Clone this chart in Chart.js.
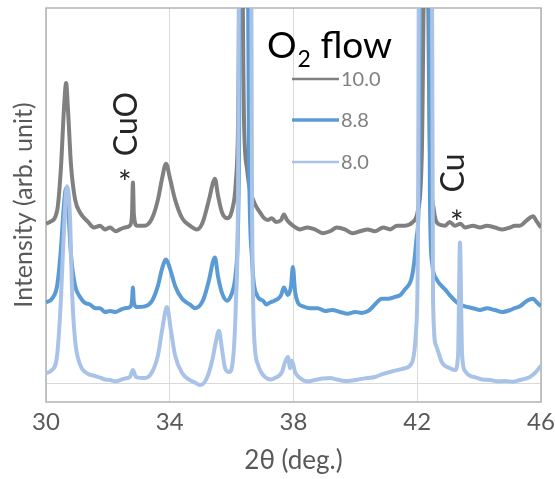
<!DOCTYPE html>
<html>
<head>
<meta charset="utf-8">
<script src="https://cdn.jsdelivr.net/npm/chart.js@4"></script>
<style>
    html, body { margin: 0; padding: 0; background: #fff; }
    #wrap { width: 555px; height: 479px; }
</style>
</head>
<body>
<div id="wrap"><canvas id="xrd-chart" width="555" height="479"></canvas></div>
<script>
// 2theta (deg) / intensity pairs, one list per O2 flow
const flow100 = [
    [30.00, 85], [30.13, 86], [30.36, 92], [30.48, 114], [30.58, 146], [30.65, 160], [30.71, 146],
    [30.81, 116], [30.94, 98], [31.10, 91], [31.36, 86], [31.55, 83], [31.75, 84], [31.90, 82],
    [32.07, 83], [32.25, 81], [32.39, 82], [32.55, 83], [32.71, 84], [32.78, 90], [32.81, 107],
    [32.84, 90], [32.94, 84], [33.20, 84], [33.43, 88], [33.62, 98], [33.75, 109], [33.88, 117],
    [34.01, 109], [34.17, 98], [34.40, 88], [34.65, 84], [34.88, 82], [35.07, 86], [35.27, 98],
    [35.40, 107], [35.46, 109], [35.56, 100], [35.69, 91], [35.85, 88], [36.01, 92], [36.14, 108],
    [36.21, 140], [36.30, 300], [36.40, 140], [36.50, 114], [36.59, 103], [36.69, 98], [36.80, 94],
    [36.92, 91], [37.05, 88], [37.17, 87], [37.30, 88], [37.43, 86], [37.60, 87], [37.69, 90],
    [37.79, 87], [37.98, 84], [38.21, 82], [38.45, 83], [38.69, 82], [38.95, 80], [39.18, 81],
    [39.40, 83], [39.66, 82], [39.90, 80], [40.15, 81], [40.40, 82], [40.63, 81], [40.90, 83],
    [41.12, 82], [41.35, 84], [41.60, 84], [41.86, 86], [42.02, 92], [42.15, 124], [42.28, 300],
    [42.41, 124], [42.54, 92], [42.67, 85], [42.90, 84], [43.05, 86], [43.22, 84], [43.40, 85],
    [43.54, 83], [43.80, 84], [44.03, 83], [44.25, 84], [44.51, 83], [44.75, 82], [45.00, 83],
    [45.15, 84], [45.32, 84], [45.55, 87], [45.74, 89], [45.87, 86], [46.00, 83],
];

const flow88 = [
    [30.00, 43], [30.19, 45], [30.36, 52], [30.48, 71], [30.58, 95], [30.65, 104], [30.71, 95],
    [30.81, 68], [30.94, 52], [31.10, 46], [31.25, 43], [31.42, 42], [31.60, 40], [31.75, 40],
    [31.90, 38], [32.07, 38.5], [32.25, 38], [32.39, 39], [32.55, 40], [32.71, 40.6], [32.78, 44],
    [32.81, 51], [32.84, 43], [32.94, 40.6], [33.20, 41], [33.43, 44], [33.62, 52], [33.75, 61],
    [33.88, 66], [34.01, 61], [34.17, 52], [34.40, 45], [34.65, 42], [34.82, 40], [35.07, 44],
    [35.27, 55], [35.40, 65], [35.46, 67], [35.56, 57], [35.69, 48], [35.85, 44], [36.01, 48],
    [36.14, 60], [36.24, 124], [36.30, 400], [36.46, 400], [36.56, 124], [36.66, 66], [36.82, 47],
    [37.01, 44], [37.12, 42], [37.24, 43], [37.38, 44], [37.50, 45], [37.60, 47], [37.69, 51],
    [37.82, 47], [37.92, 52], [37.98, 62], [38.05, 49], [38.14, 43], [38.30, 41], [38.53, 40],
    [38.78, 40], [39.02, 38.5], [39.25, 39], [39.50, 38], [39.75, 37], [39.99, 38], [40.20, 37.5],
    [40.41, 38.5], [40.52, 40], [40.63, 42], [40.86, 45], [41.05, 45], [41.28, 46], [41.45, 47],
    [41.60, 50], [41.80, 55], [41.89, 63], [41.99, 79], [42.06, 108], [42.12, 400], [42.34, 400],
    [42.41, 98], [42.48, 64], [42.64, 55], [42.78, 52], [42.90, 50], [43.05, 47], [43.22, 44],
    [43.38, 42], [43.54, 41], [43.80, 40], [44.03, 39], [44.25, 40], [44.51, 39], [44.75, 38],
    [45.00, 39], [45.15, 40], [45.32, 41], [45.55, 44], [45.74, 45], [45.87, 43], [46.00, 41],
];

const flow80 = [
    [30.00, 5.4], [30.19, 7], [30.36, 15], [30.48, 44], [30.58, 82], [30.68, 105], [30.78, 87],
    [30.84, 50], [30.94, 23], [31.10, 10], [31.36, 5], [31.55, 4], [31.75, 3], [31.90, 2],
    [32.07, 1.7], [32.25, 1], [32.39, 1.7], [32.55, 2.5], [32.71, 3.3], [32.81, 7], [32.91, 3.3],
    [33.20, 2.8], [33.43, 6], [33.62, 15], [33.75, 28], [33.91, 40.6], [34.04, 28], [34.17, 15],
    [34.40, 5.4], [34.65, 1.7], [34.80, 0.5], [34.98, -1], [35.20, 2.8], [35.37, 12], [35.49, 22],
    [35.59, 28], [35.69, 18], [35.79, 8], [35.92, 6], [36.04, 12], [36.14, 44], [36.21, 108],
    [36.27, 400], [36.59, 400], [36.66, 98], [36.72, 28], [36.85, 10], [36.95, 6], [37.08, 3.3],
    [37.25, 2], [37.40, 2.8], [37.63, 6], [37.72, 11], [37.82, 14], [37.89, 8], [37.95, 12],
    [38.05, 6], [38.21, 2.8], [38.45, 1], [38.69, 1.7], [38.95, 2.5], [39.18, 2.8], [39.40, 2],
    [39.66, 1.2], [39.90, 1.5], [40.15, 2.2], [40.40, 2.8], [40.63, 3.3], [40.90, 5], [41.12, 6],
    [41.35, 7], [41.60, 8], [41.83, 11], [41.96, 28], [42.02, 71], [42.09, 400], [42.44, 400],
    [42.51, 44], [42.61, 20], [42.80, 11], [43.06, 8], [43.22, 7], [43.32, 15], [43.38, 75],
    [43.45, 15], [43.57, 6], [43.70, 4], [43.86, 3.3], [44.10, 2], [44.35, 1.7], [44.60, 1],
    [44.84, 1.2], [45.10, 0.8], [45.32, 1.7], [45.50, 2.5], [45.64, 3.3], [45.84, 6], [46.00, 9.5],
];

const FLOW_LABELS = ["10.0", "8.8", "8.0"];
const FLOW_COLORS = ["#808080", "#5b9bd5", "#a9c3e8"];
const X_TICKS = [30, 34, 38, 42, 46];

const FONT = "Lato, 'Open Sans', sans-serif";
const toPoints = (rows) => rows.map(([x, y]) => ({ x, y }));

// plot frame, drawn under the traces
const framePlugin = {
    id: "frame",
    beforeDatasetsDraw(chart) {
        const { ctx, chartArea: a } = chart;
        ctx.save();
        ctx.strokeStyle = "#b3b3b3";
        ctx.lineWidth = 1.5;
        ctx.strokeRect(a.left, a.top, a.right - a.left, a.bottom - a.top);
        ctx.restore();
    },
};

// "O2 flow" legend and the CuO / Cu markers
const labelsPlugin = {
    id: "labels",
    afterDraw(chart) {
        const { ctx } = chart;
        const xs = chart.scales.x;
        ctx.save();

        // legend title
        ctx.fillStyle = "#000";
        ctx.textBaseline = "alphabetic";
        ctx.textAlign = "left";
        ctx.font = `37px ${FONT}`;
        let tx = 267;
        ctx.fillText("O", tx, 58);
        tx += ctx.measureText("O").width;
        ctx.font = `23px ${FONT}`;
        ctx.fillText("2", tx + 1, 67);
        tx += ctx.measureText("2").width + 1;
        ctx.font = `37px ${FONT}`;
        ctx.fillText(" flow", tx, 58);

        // legend rows
        const rowsY = [79, 120, 162];
        const widths = [2.5, 3.5, 2.5];
        ctx.font = `20px ${FONT}`;
        ctx.textBaseline = "middle";
        FLOW_LABELS.forEach((lab, i) => {
            ctx.strokeStyle = FLOW_COLORS[i];
            ctx.lineWidth = widths[i];
            ctx.beginPath();
            ctx.moveTo(292, rowsY[i]);
            ctx.lineTo(339, rowsY[i]);
            ctx.stroke();
            ctx.fillStyle = "#808080";
            ctx.fillText(lab, 341, rowsY[i] + 1);
        });

        // peak markers
        ctx.fillStyle = "#262626";
        ctx.textAlign = "center";
        ctx.font = `32px ${FONT}`;
        ctx.fillText("*", xs.getPixelForValue(32.55), 184);
        ctx.fillText("*", xs.getPixelForValue(43.28), 224);

        ctx.font = `32px ${FONT}`;
        ctx.save();
        ctx.translate(xs.getPixelForValue(32.62), 124);
        ctx.rotate(-Math.PI / 2);
        ctx.fillText("CuO", 0, 0);
        ctx.restore();

        ctx.save();
        ctx.translate(xs.getPixelForValue(43.19), 173);
        ctx.rotate(-Math.PI / 2);
        ctx.fillText("Cu", 0, 0);
        ctx.restore();

        ctx.restore();
    },
};

const seriesData = [flow100, flow88, flow80];

new Chart(document.getElementById("xrd-chart").getContext("2d"), {
    type: "line",
    data: {
        datasets: seriesData.map((rows, i) => ({
            label: FLOW_LABELS[i],
            data: toPoints(rows),
            borderColor: FLOW_COLORS[i],
            borderWidth: 4,
            borderJoinStyle: "round",
            pointRadius: 0,
            cubicInterpolationMode: "monotone",
            fill: false,
            order: 3 - i,
        })),
    },
    options: {
        responsive: false,
        animation: false,
        events: [],
        layout: { padding: { left: 0, right: 14, top: 8, bottom: 0 } },
        plugins: {
            legend: { display: false },
            tooltip: { enabled: false },
        },
        scales: {
            x: {
                type: "linear",
                min: 30,
                max: 46,
                afterBuildTicks: (s) => { s.ticks = X_TICKS.map((v) => ({ value: v })); },
                afterFit: (s) => { s.height = 77; s.paddingLeft = 0; s.paddingRight = 0; },
                ticks: {
                    color: "#595959",
                    font: { family: FONT, size: 24 },
                    padding: 6,
                    maxRotation: 0,
                },
                grid: { color: "#d9d9d9", drawTicks: false },
                border: { display: false },
                title: {
                    display: true,
                    text: "2θ (deg.)",
                    color: "#595959",
                    font: { family: FONT, size: 26 },
                    padding: { top: 0, bottom: 3 },
                },
            },
            y: {
                min: -10,
                max: 200,
                afterBuildTicks: (s) => { s.ticks = [{ value: 0 }]; },
                afterFit: (s) => { s.width = 46; s.paddingTop = 0; s.paddingBottom = 0; },
                ticks: { display: false },
                grid: { color: "#d9d9d9", drawTicks: false },
                border: { display: false },
                title: {
                    display: true,
                    text: "Intensity (arb. unit)",
                    color: "#595959",
                    font: { family: FONT, size: 25 },
                    padding: { top: 9, bottom: 0 },
                },
            },
        },
    },
    plugins: [framePlugin, labelsPlugin],
});
</script>
</body>
</html>
